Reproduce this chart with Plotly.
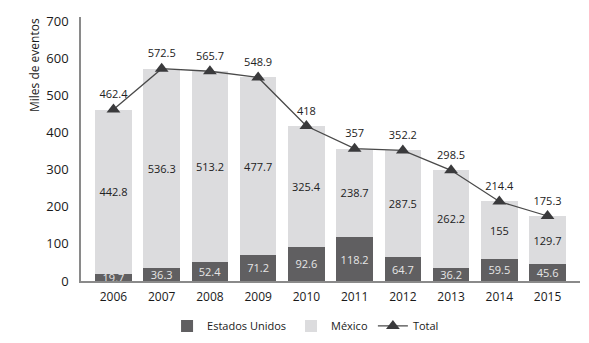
import plotly.graph_objects as go

years = ["2006", "2007", "2008", "2009", "2010", "2011", "2012", "2013", "2014", "2015"]
estados_unidos = [19.7, 36.3, 52.4, 71.2, 92.6, 118.2, 64.7, 36.2, 59.5, 45.6]
mexico = [442.8, 536.3, 513.2, 477.7, 325.4, 238.7, 287.5, 262.2, 155, 129.7]
total = [462.4, 572.5, 565.7, 548.9, 418, 357, 352.2, 298.5, 214.4, 175.3]

FONT = "Open Sans"
fmt = lambda v: ("%g" % v)

fig = go.Figure()
fig.add_trace(go.Bar(
    x=years, y=estados_unidos, name="Estados Unidos",
    marker=dict(color="#605f61", line=dict(width=0)),
    text=[fmt(v) for v in estados_unidos], textposition="inside",
    insidetextanchor="middle", textfont=dict(color="#e6e6e6", size=11, family=FONT),
))
fig.add_trace(go.Bar(
    x=years, y=mexico, name="México",
    marker=dict(color="#dcdcde", line=dict(width=0)),
    text=[fmt(v) for v in mexico], textposition="inside",
    insidetextanchor="middle", textfont=dict(color="#222222", size=11, family=FONT),
))
fig.add_trace(go.Scatter(
    x=years, y=total, name="Total", mode="lines+markers+text",
    line=dict(color="#4a4a4a", width=1.3),
    marker=dict(symbol="triangle-up", size=12, color="#3a3a3c"),
    text=[fmt(v) for v in total], textposition="top center",
    textfont=dict(color="#222222", size=11, family=FONT),
    cliponaxis=False,
))

# page has an 8px body margin, so the figure is 573x327 placed at (8,8)
fig.update_layout(
    width=573, height=327,
    margin=dict(l=73, r=1, t=9, b=54, autoexpand=False),
    barmode="stack", bargap=0.24,
    plot_bgcolor="white", paper_bgcolor="white",
    font=dict(family=FONT, size=12, color="#1a1a1a"),
    uniformtext=dict(minsize=11, mode="show"),
    showlegend=True,
    legend=dict(orientation="h", x=0.45, xanchor="center", y=-0.17, yanchor="middle",
                traceorder="normal", font=dict(size=11), itemwidth=30,
                bgcolor="rgba(0,0,0,0)"),
    xaxis=dict(showline=True, linecolor="#8a8a8a", linewidth=1.5, ticks="",
               showgrid=False, tickfont=dict(size=12), automargin=False,
               ticklabelstandoff=4),
    yaxis=dict(range=[0, 712], tickvals=[0, 100, 200, 300, 400, 500, 600, 700],
               showline=True, linecolor="#8a8a8a", linewidth=1.5, ticks="",
               showgrid=False, zeroline=False, tickfont=dict(size=13),
               ticklabelstandoff=8, automargin=False),
    annotations=[dict(text="Miles de eventos", textangle=-90,
                      x=(35 - 81) / 499, xref="paper",
                      y=(281 - 65) / 264, yref="paper",
                      xanchor="center", yanchor="middle",
                      showarrow=False, font=dict(size=12))],
)
fig.write_html("out.html")
